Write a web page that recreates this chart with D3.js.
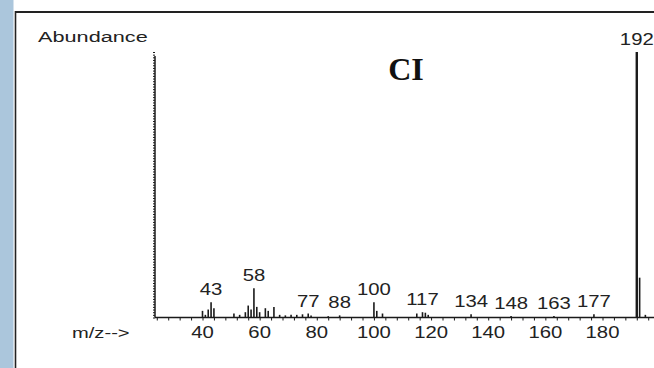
<!DOCTYPE html>
<html><head><meta charset="utf-8">
<script src="https://cdn.jsdelivr.net/npm/d3@7"></script>
<style>html,body{margin:0;padding:0;background:#fff;}svg{display:block;}</style>
</head><body>
<svg id="c" width="654" height="368"></svg>
<script>
// m/z values and relative abundances (%)
const mz =        [40, 41, 42, 43, 44, 51, 53, 55, 56, 57, 58, 59, 60, 62, 63, 65, 67, 69, 71, 73, 75, 77, 78, 84, 88, 100, 101, 103, 115, 117, 118, 119, 134, 148, 163, 177, 192, 193, 195];
const abundance = [2.5,1.0,3.0,5.7,3.5,1.5,1.0,2.0,4.5,3.0,11.0,4.0,2.0,3.5,2.5,4.0,1.0,0.8,1.0,1.0,1.2,1.5,0.8,0.5,0.8,5.7, 2.5, 1.5, 1.5, 2.0, 1.8, 1.0, 1.2, 0.6, 0.6, 1.2, 100, 15, 1.0];
const labelled = [43, 58, 77, 88, 100, 117, 134, 148, 163, 177, 192];
const xTicks = [40, 60, 80, 100, 120, 140, 160, 180];
const title = "CI";
const yTitle = "Abundance";
const xTitle = "m/z-->";

const svg = d3.select("#c");
const W = 654, H = 368;
const x = d3.scaleLinear().domain([40, 180]).range([202.5, 602.5]);
const y = d3.scaleLinear().domain([0, 100]).range([317.5, 52]);
const ink = "#1a1a1a";

// left blue strip and frame
svg.append("rect").attr("x", 0).attr("y", 0).attr("width", 13.5).attr("height", H).attr("fill", "#abc6dc");
svg.append("line").attr("x1", 15.5).attr("x2", 15.5).attr("y1", 11).attr("y2", H).attr("stroke", "#222").attr("stroke-width", 1.6);
svg.append("line").attr("x1", 15).attr("x2", W).attr("y1", 12).attr("y2", 12).attr("stroke", "#222").attr("stroke-width", 1.8);

function stretchedText(tx, ty, str, anchor, size, sx) {
  const g = svg.append("g").attr("transform", `translate(${tx},${ty}) scale(${sx || 1.27},1)`);
  g.append("text").attr("text-anchor", anchor || "middle")
    .attr("font-family", "Liberation Sans, Arial, sans-serif")
    .attr("font-size", size || 16).attr("fill", "#222").text(str);
}

// y axis with dense ticks
const xRight = x.invert(W);
const yAxis = d3.axisLeft(y).tickValues(d3.range(0, 100.5, 1)).tickSize(2).tickFormat("");
const gy = svg.append("g").attr("transform", "translate(155,0)").call(yAxis);
gy.select(".domain").remove();
gy.selectAll("line").attr("stroke", ink).attr("stroke-width", 1);
svg.append("line").attr("x1", 155).attr("x2", 155).attr("y1", 56).attr("y2", y(0)).attr("stroke", ink).attr("stroke-width", 1.5);

// x axis
const minor = d3.range(24, xRight, 4);
const xAxis = d3.axisBottom(x).tickValues(minor).tickSize(3).tickFormat("");
const gx = svg.append("g").attr("transform", `translate(0,${y(0)})`).call(xAxis);
gx.select(".domain").remove();
gx.selectAll("line").attr("stroke", ink).attr("stroke-width", 1);
svg.append("line").attr("x1", 155).attr("x2", W).attr("y1", y(0)).attr("y2", y(0)).attr("stroke", ink).attr("stroke-width", 1.4);
xTicks.forEach(t => stretchedText(x(t), 338, String(t)));

// peaks
const peaks = mz.map((m, i) => ({ m, a: abundance[i] }));
svg.append("g").selectAll("line").data(peaks).join("line")
  .attr("x1", d => x(d.m)).attr("x2", d => x(d.m))
  .attr("y1", y(0)).attr("y2", d => y(d.a))
  .attr("stroke", ink).attr("stroke-width", d => d.a >= 50 ? 2.4 : 1.6);

// peak labels
peaks.filter(d => labelled.includes(d.m)).forEach(d => {
  stretchedText(x(d.m), y(d.a) - 7, String(d.m));
});

// titles
stretchedText(38, 42, yTitle, "start", 15.5, 1.4);
stretchedText(72, 338, xTitle, "start", 15.5, 1.3);
svg.append("text").attr("x", 406).attr("y", 80).attr("text-anchor", "middle")
  .attr("font-family", "Liberation Serif, Times New Roman, serif")
  .attr("font-weight", "bold")
  .attr("font-size", 32).attr("fill", "#111").text(title);
</script>
</body></html>
